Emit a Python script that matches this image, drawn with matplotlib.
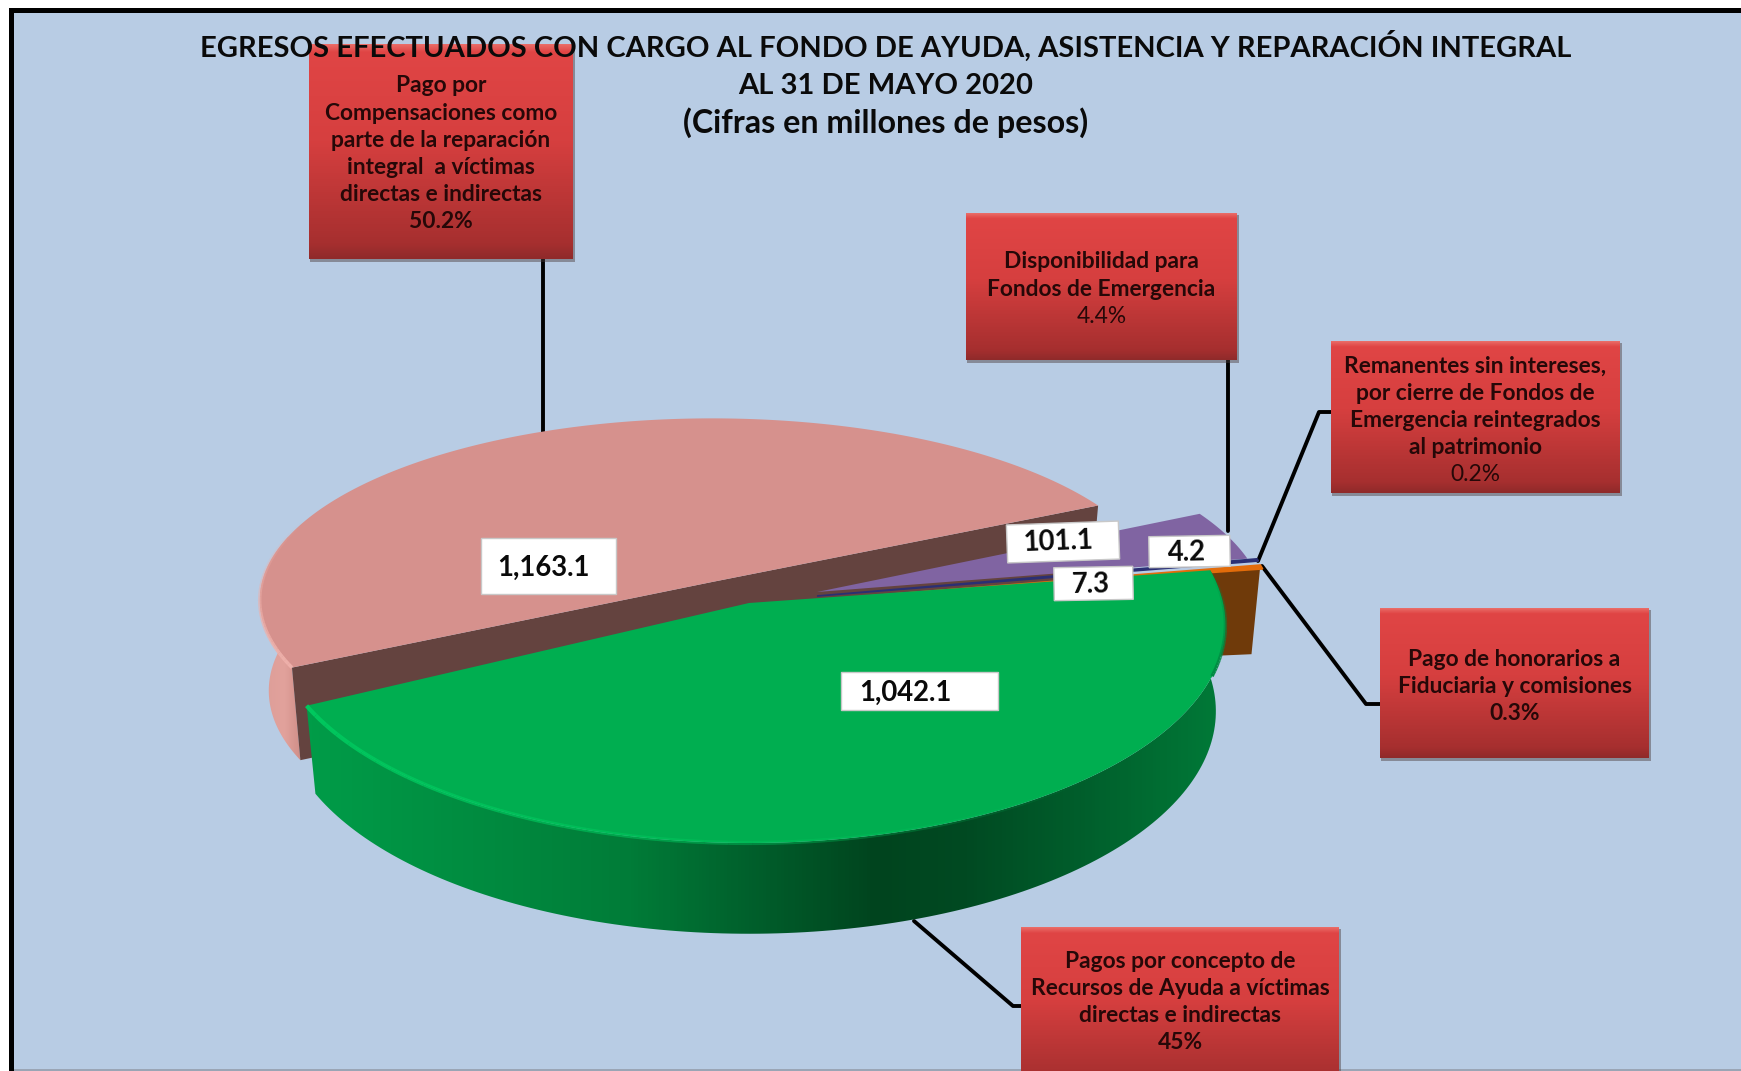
"""Egresos del fondo de ayuda: 3D-looking exploded pie, drawn in pixel coordinates."""

import numpy as np
import matplotlib
matplotlib.use("Agg")
import matplotlib.pyplot as plt
from matplotlib.colors import LinearSegmentedColormap
from matplotlib.patches import Polygon, Rectangle

plt.rcParams['font.family'] = ['Lato', 'DejaVu Sans']

W, H = 1741, 1071

# --- data ---
slice_names = ['compensaciones', 'disponibilidad', 'remanentes', 'honorarios', 'recursos']
slice_values = [1163.1, 101.1, 4.2, 7.3, 1042.1]
value_labels = ['1,163.1', '101.1', '4.2', '7.3', '1,042.1']

title_lines = [
    'EGRESOS EFECTUADOS CON CARGO AL FONDO DE AYUDA, ASISTENCIA Y REPARACIÓN INTEGRAL',
    'AL 31 DE MAYO 2020',
    '(Cifras en millones de pesos)',
]

box_texts = [
    ['Pago por', 'Compensaciones como', 'parte de la reparación',
     'integral  a víctimas', 'directas e indirectas'],
    ['Disponibilidad para', 'Fondos de Emergencia'],
    ['Remanentes sin intereses,', 'por cierre de Fondos de',
     'Emergencia reintegrados', 'al patrimonio'],
    ['Pago de honorarios a', 'Fiduciaria y comisiones'],
    ['Pagos por concepto de', 'Recursos de Ayuda a víctimas', 'directas e indirectas'],
]
box_percents = ['50.2%', '4.4%', '0.2%', '0.3%', '45%']

# --- layout (pixels of the 1741x1071 picture) ---
START_ANGLE = 207.0   # slices run clockwise from here
PERSP = 0.10
DEPTH = 90
GREEN_DEPTH = 86
BOTTOM_SCALE = 0.98

# centre x, centre y, half width, half height of each slice
slice_geom = [
    (712, 582, 450, 180),
    (817, 592, 446, 184),
    (817, 596, 456, 205),
    (817, 600, 458, 205),
    (749, 603, 474, 216),
]
slice_colors = ['#d6918d', '#8064a2', '#2b2f73', '#e36c0a', '#00ae50']

label_rects = [  # x0, y0, x1, y1, text x, text y, rotation
    (481, 538, 616, 594, 543, 568, 0),
    (1007, 523, 1119, 561, 1058, 542, 2),
    (1149, 536, 1230, 567, 1187, 553, 1),
    (1054, 567, 1133, 600, 1091, 585, 1),
    (841, 672, 998, 710, 905, 693, 0),
]

box_rects = [
    (309, 44, 573, 259),
    (966, 213, 1237, 360),
    (1331, 341, 1620, 493),
    (1380, 608, 1649, 758),
    (1021, 927, 1339, 1090),
]
box_first_line = [86, 262, 366, 659, 961]
percent_bold = [True, False, False, True, True]

leaders = [
    [(543, 259), (543, 436)],
    [(1228, 360), (1228, 531)],
    [(1331, 412), (1319, 412), (1258, 561)],
    [(1380, 704), (1366, 704), (1262, 566)],
    [(1021, 1006), (1013, 1006), (914, 921)],
]


def project(theta, geom, depth=0.0):
    """Screen position of a rim point at angle theta (deg), with simple perspective."""
    cx, cy, a, b = geom
    t = np.radians(theta)
    xx, yy = np.cos(t), np.sin(t)
    s = 1.0 / (1.0 + PERSP * yy)
    scale = BOTTOM_SCALE if depth else 1.0
    return cx + a * xx * s * scale, cy - b * yy * s * scale + depth * s


def arc(t0, t1, geom, depth=0.0):
    th = np.linspace(t0, t1, 160)
    x, y = project(th, geom, depth)
    return np.column_stack([x, y])


def gradient_fill(ax, poly_pts, stops, vertical, zorder):
    """Fill a polygon with a linear gradient, stops being (position, colour)."""
    pts = np.asarray(poly_pts)
    x0, x1 = pts[:, 0].min(), pts[:, 0].max()
    y0, y1 = pts[:, 1].min(), pts[:, 1].max()
    cmap = LinearSegmentedColormap.from_list('g', stops)
    ramp = np.linspace(0, 1, 256)
    grid = ramp[:, None] if vertical else ramp[None, :]
    im = ax.imshow(grid, cmap=cmap, vmin=0, vmax=1, extent=(x0, x1, y1, y0),
                   aspect='auto', origin='upper', zorder=zorder, interpolation='bilinear')
    im.set_clip_path(Polygon(pts, closed=True, transform=ax.transData))


def fading_line(ax, pts, color, lw, zorder):
    """Rim highlight that fades out along its length."""
    step = 4
    n = len(pts) - 1
    for i in range(0, n, step):
        seg = pts[i:i + step + 1]
        ax.plot(seg[:, 0], seg[:, 1], color=color, lw=lw, alpha=1 - i / n, zorder=zorder,
                solid_capstyle='butt')


fig = plt.figure(figsize=(W / 100, H / 100), dpi=100, facecolor='white')
ax = fig.add_axes([0, 0, 1, 1])
ax.axis('off')

# frame and background
ax.add_patch(Rectangle((9, 8), W, H, fc='black', ec='none', zorder=0))
ax.add_patch(Rectangle((14, 13), W, H, fc='#b8cce4', ec='none', zorder=0.5))
ax.add_patch(Rectangle((14, 1069), W, 2, fc='#9aa5b5', ec='none', zorder=0.6))

# angles from the values, clockwise from START_ANGLE over the top
total = sum(slice_values)
sweeps = [v / total * 360 for v in slice_values]
edges = [START_ANGLE]
for sw in sweeps:
    edges.append(edges[-1] - sw)
starts, ends = edges[:-1], edges[1:]

for pts in leaders:
    p = np.array(pts)
    ax.plot(p[:, 0], p[:, 1], color='black', lw=2.8, solid_capstyle='round', zorder=1)

# pink slice: outer rim on the left, then the dark cut face, then the top
g = slice_geom[0]
rim_top = arc(starts[0], 165, g)
rim_bot = arc(165, starts[0], g, DEPTH)
rim = np.vstack([rim_top, rim_bot])
gradient_fill(ax, rim, [(0.0, '#dc9d98'), (0.6, '#e2a29c'), (1.0, '#cf8e88')], False, 2)
apex = np.array(g[:2], dtype=float)
left = np.array(project(starts[0], g))
right = np.array(project(ends[0], g))
left_b = np.array(project(starts[0], g, DEPTH))
right_b = np.array(project(ends[0], g, DEPTH))
ax.add_patch(Polygon([left, apex, right, right_b, left_b], fc='#64433f', ec='none', zorder=3))
ax.add_patch(Polygon(np.vstack([apex, arc(starts[0], ends[0], g)]),
                     fc=slice_colors[0], ec='none', zorder=4))
fading_line(ax, arc(starts[0], 160, g), '#eeb0aa', 2.5, 4.1)

# orange slice shows its brown side behind the green one
g = slice_geom[3]
apex = np.array(g[:2], dtype=float)
end_top = np.array(project(starts[3], g))
end_bot = np.array(project(starts[3], g, DEPTH))
inner_bot = end_bot + np.array([-45, 2])
ax.add_patch(Polygon([apex + [0, 1], end_top, end_bot, inner_bot, apex + [300, 60]],
                     fc='#6f3a0a', ec='none', zorder=5))

# thin slices on top of it
for i in (1, 2, 3):
    g = slice_geom[i]
    lw = 0 if i == 1 else 1.2
    ax.add_patch(Polygon(np.vstack([g[:2], arc(starts[i], ends[i], g)]),
                         fc=slice_colors[i], ec=slice_colors[i], lw=lw, zorder=6 + i * 0.1))

# green slice: gradient side, then top
g = slice_geom[4]
side = np.vstack([arc(starts[4], ends[4], g), arc(ends[4], starts[4], g, GREEN_DEPTH)])
green_stops = [(0.0, '#009c48'), (0.2, '#008a3f'), (0.35, '#007c38'), (0.5, '#005c2a'),
               (0.62, '#00441e'), (0.72, '#004a22'), (0.85, '#005f2c'), (1.0, '#007a38')]
gradient_fill(ax, side, green_stops, False, 7)
apex = np.array(g[:2], dtype=float)
top = np.vstack([apex, arc(starts[4], ends[4], g)])
ax.add_patch(Polygon(top, fc=slice_colors[4], ec='none', zorder=8))
fading_line(ax, arc(ends[4], ends[4] + 105, g), '#00c85e', 3, 8.1)
fading_line(ax, arc(starts[4] - 28, starts[4], g), '#008a42', 2.5, 8.1)

# value labels
for lab, (x0, y0, x1, y1, tx, ty, rot) in zip(value_labels, label_rects):
    cx, cy = (x0 + x1) / 2, (y0 + y1) / 2
    corners = np.array([(x0, y0), (x1, y0), (x1, y1), (x0, y1)], dtype=float) - [cx, cy]
    t = np.radians(rot)
    rotm = np.array([[np.cos(t), np.sin(t)], [-np.sin(t), np.cos(t)]])
    ax.add_patch(Polygon(corners @ rotm.T + [cx, cy], fc='white', ec='#c8c8c8', lw=1, zorder=9))
    ax.text(tx, ty, lab, ha='center', va='center', fontsize=19.8, fontweight='bold',
            color='#0a0a0a', rotation=rot, zorder=10)

# red callout boxes
box_stops = [(0.0, '#ea6d68'), (0.035, '#e04545'), (0.45, '#d63f3f'),
             (0.93, '#a62f2f'), (1.0, '#8f2a2a')]
for rect, lines, pct, y1st, bold in zip(box_rects, box_texts, box_percents,
                                        box_first_line, percent_bold):
    x0, y0, x1, y1 = rect
    ax.add_patch(Rectangle((x0 + 1, y0 + 2), x1 - x0 + 1, y1 - y0 + 1, fc='#4a3a3a',
                           alpha=0.45, ec='none', zorder=10.5))
    gradient_fill(ax, [(x0, y0), (x1, y0), (x1, y1), (x0, y1)], box_stops, True, 11)
    mid = (x0 + x1) / 2
    y = y1st
    for line in lines:
        ax.text(mid, y, line, ha='center', va='center', fontsize=16.4, fontweight='bold',
                color='#260808', zorder=12)
        y += 27.2
    ax.text(mid, y, pct, ha='center', va='center', fontsize=16.4,
            fontweight='bold' if bold else 'normal', color='#260808', zorder=12)

# title over everything
for line, ty, fs in zip(title_lines, (46, 86, 123), (21, 21, 23.2)):
    ax.text(886, ty, line, ha='center', va='center', fontsize=fs, fontweight='bold',
            color='#0a0a0a', zorder=13)

ax.set_xlim(0, W)
ax.set_ylim(H, 0)
fig.savefig('out.png', dpi=100, facecolor='white')
